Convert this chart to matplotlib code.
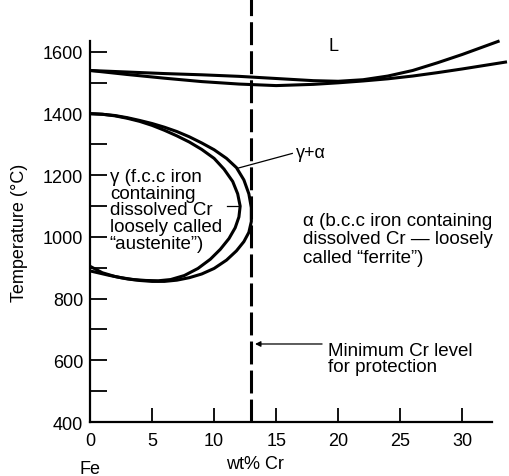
import numpy as np
from matplotlib import pyplot as plt

# liquidus / solidus (wt% Cr, deg C)
liq_x = [0, 3, 6, 9, 12, 15, 18, 20, 22, 24, 26, 28, 30, 33]
liq_t = [1540, 1535, 1530, 1526, 1521, 1514, 1507, 1505, 1510, 1522, 1540, 1565, 1592, 1636]
sol_x = [0, 3, 6, 9, 12, 15, 18, 20, 22, 24, 26, 28, 30, 33.6]
sol_t = [1540, 1527, 1515, 1504, 1496, 1491, 1495, 1500, 1506, 1513, 1522, 1533, 1545, 1568]

# gamma loop, outer (alpha side) and inner (gamma side) boundaries
outer_x = [0, 1, 2, 3, 4, 5, 6, 7, 8, 9, 10, 11, 11.8, 12.4, 12.8, 13.0, 13.0, 12.8,
           12.4, 11.8, 11, 10, 9, 8, 7, 6, 5, 4, 3, 2, 1, 0]
outer_t = [1400, 1398, 1394, 1387, 1378, 1368, 1356, 1342, 1325, 1305, 1283, 1255, 1225,
           1185, 1140, 1095, 1050, 1015, 985, 955, 925, 898, 880, 868, 860, 856, 856, 859,
           864, 872, 884, 905]
inner_x = [0, 1, 2, 3, 4, 5, 6, 7, 8, 9, 10, 10.8, 11.5, 11.9, 12.1, 12.0, 11.7, 11.2,
           10.5, 9.7, 8.7, 7.6, 6.5, 5.5, 4.5, 3.5, 2.5, 1.5, 0]
inner_t = [1400, 1398, 1393, 1385, 1375, 1362, 1346, 1328, 1308, 1284, 1255, 1220, 1180,
           1140, 1100, 1065, 1030, 995, 960, 928, 898, 875, 862, 858, 859, 862, 868, 876, 890]

cr_min = 13
x_ticks = [0, 5, 10, 15, 20, 25, 30]
y_major = [400, 600, 800, 1000, 1200, 1400, 1600]
y_minor = [500, 700, 900, 1100, 1300, 1500]

plt.rcParams['font.family'] = ['Liberation Sans', 'DejaVu Sans']
plt.rcParams['font.size'] = 13

fig = plt.figure(figsize=(5.09, 4.77), dpi=100)
ax = fig.add_axes([0.1768, 0.1132, 0.79, 0.799])

lw = 2.2
ax.plot(liq_x, liq_t, color='black', lw=lw, clip_on=False, solid_capstyle='butt')
ax.plot(sol_x, sol_t, color='black', lw=lw, clip_on=False, solid_capstyle='butt')
ax.plot(outer_x, outer_t, color='black', lw=lw)
ax.plot(inner_x, inner_t, color='black', lw=lw)

# minimum Cr level
ax.plot([cr_min, cr_min], [400, 1772], color='black', lw=2.2,
        linestyle=(0, (7.5, 2)), clip_on=False)

ax.set_xlim(0, 32.4)
ax.set_ylim(400, 1636)
ax.set_xticks(x_ticks)
ax.set_yticks(y_major)
ax.set_yticks(y_minor, minor=True)
ax.tick_params(axis='y', which='both', direction='in', length=12, width=1.3, pad=5)
ax.tick_params(axis='x', direction='in', length=10, width=1.3, pad=7)
ax.tick_params(axis='both', labelsize=13)
for s in ['top', 'right']:
    ax.spines[s].set_visible(False)
for s in ['left', 'bottom']:
    ax.spines[s].set_linewidth(1.6)

ax.set_ylabel('Temperature (°C)', fontsize=13)
ax.yaxis.set_label_coords(-0.155, 0.5)
fig.text(90 / 509, 1 - 470 / 477, 'Fe', ha='center', va='center', fontsize=13)
fig.text(255 / 509, 1 - 465 / 477, 'wt% Cr', ha='center', va='center', fontsize=13)

ax.text(19.6, 1622, 'L', ha='center', va='center', fontsize=13)
ax.text(16.6, 1275, 'γ+α', ha='left', va='center', fontsize=13)
ax.plot([11.9, 16.3], [1223, 1271], color='black', lw=0.9)

ax.text(1.6, 1088, 'γ (f.c.c iron\ncontaining\ndissolved Cr\nloosely called\n“austenite”)',
        ha='left', va='center', fontsize=13.5, linespacing=0.97)
ax.plot([11.0, 11.9], [1100, 1100], color='black', lw=0.9)

ax.text(17.2, 994, 'α (b.c.c iron containing\ndissolved Cr — loosely\ncalled “ferrite”)',
        ha='left', va='center', fontsize=13.5, linespacing=1.13)

ax.annotate('', xy=(13.3, 653), xytext=(18.7, 653),
            arrowprops=dict(arrowstyle='-|>', color='black', lw=0.9,
                            mutation_scale=8, shrinkA=0, shrinkB=0))
ax.text(19.2, 605, 'Minimum Cr level\nfor protection', ha='left', va='center',
        fontsize=13.5, linespacing=0.92)

fig.savefig('out.png', dpi=100)
